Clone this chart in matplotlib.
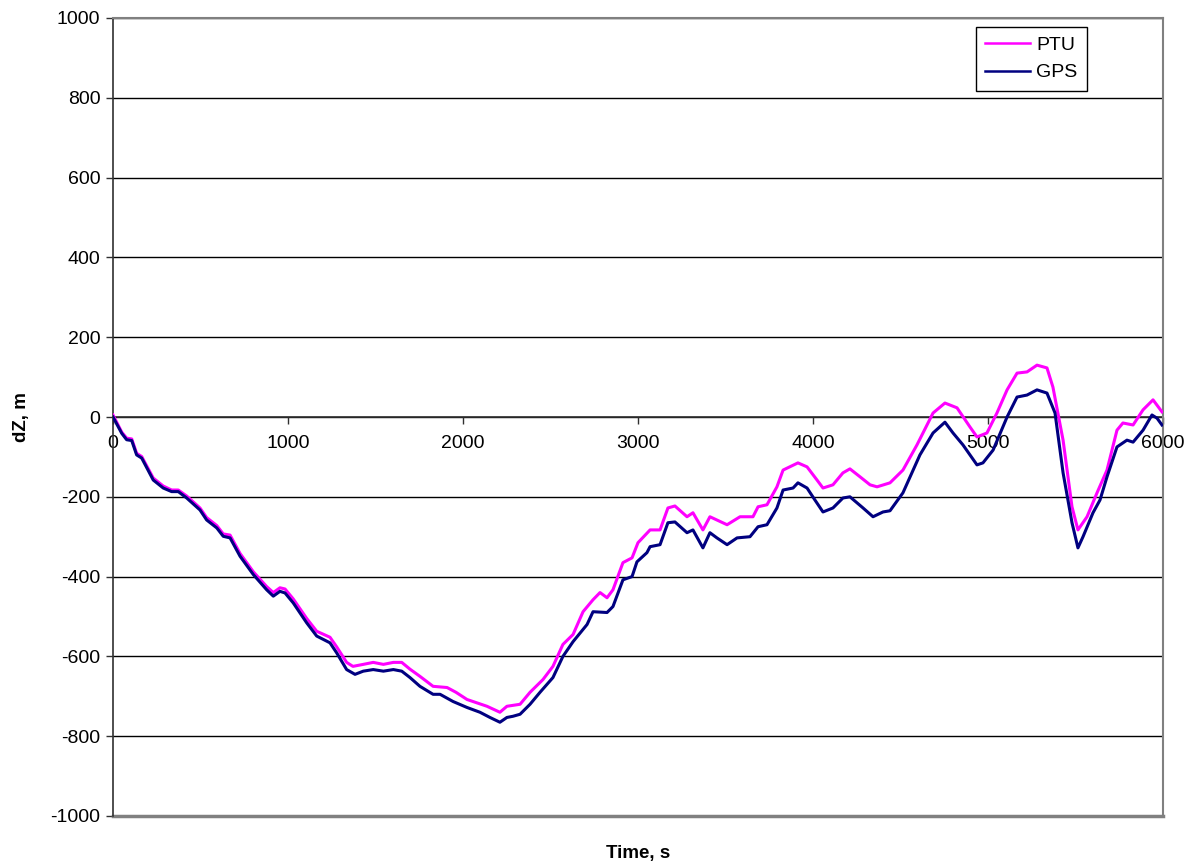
import matplotlib
matplotlib.use('Agg')
import matplotlib.pyplot as plt
import numpy as np

matplotlib.rcParams['font.family'] = ['Liberation Sans', 'DejaVu Sans']
matplotlib.rcParams['axes.unicode_minus'] = False
plt.rcParams.update({'font.size': 14})

# GPS height difference
t_gps = [0, 50, 78, 107, 135, 164, 230, 287, 335, 373, 421, 497, 535, 593, 630, 669,
         726, 802, 878, 916, 954, 983, 1030, 1107, 1164, 1240, 1278, 1335, 1383, 1430,
         1487, 1545, 1602, 1650, 1697, 1754, 1829, 1869, 1943, 2023, 2097, 2154, 2211,
         2251, 2286, 2326, 2383, 2440, 2514, 2571, 2629, 2709, 2743, 2823, 2857, 2914,
         2966, 2994, 3051, 3069, 3126, 3171, 3211, 3280, 3314, 3371, 3411, 3451, 3509,
         3566, 3640, 3686, 3737, 3794, 3829, 3886, 3914, 3966, 4011, 4057, 4114, 4171,
         4211, 4286, 4343, 4400, 4440, 4514, 4611, 4686, 4754, 4800, 4857, 4937, 4971,
         5029, 5109, 5166, 5223, 5280, 5337, 5383, 5429, 5480, 5514, 5543, 5600, 5640,
         5680, 5737, 5794, 5829, 5886, 5937, 5966, 5994]
z_gps = [0, -41, -57, -59, -95, -103, -158, -178, -187, -187, -203, -233, -258, -278, -299, -303,
         -349, -395, -433, -449, -437, -441, -466, -516, -549, -566, -591, -633, -645, -637,
         -633, -637, -633, -637, -653, -675, -695, -695, -713, -728, -740, -753, -765,
         -753, -750, -745, -720, -690, -653, -600, -563, -520, -488, -490, -475, -408,
         -400, -363, -340, -325, -320, -265, -263, -290, -283, -328, -290, -303, -320,
         -303, -300, -275, -270, -228, -183, -178, -165, -178, -208, -238, -228, -203,
         -200, -228, -250, -238, -235, -190, -95, -40, -13, -40, -70, -120, -115,
         -83, 0, 50, 55, 68, 60, 10, -140, -265, -328, -300, -240, -208,
         -150, -75, -58, -63, -33, 5, -3, -20]

# PTU height difference
t_ptu = [0, 50, 78, 107, 135, 164, 230, 287, 335, 373, 421, 497, 535, 593, 630, 669,
         726, 802, 878, 916, 954, 983, 1030, 1107, 1164, 1240, 1278, 1335, 1371, 1430,
         1487, 1545, 1602, 1650, 1697, 1754, 1829, 1909, 1960, 2023, 2137, 2211, 2251,
         2326, 2383, 2457, 2514, 2571, 2629, 2686, 2743, 2783, 2823, 2857, 2914, 2966,
         3000, 3069, 3126, 3171, 3211, 3280, 3314, 3371, 3411, 3509, 3583, 3657, 3686,
         3737, 3794, 3829, 3914, 3966, 4023, 4057, 4114, 4171, 4211, 4269, 4326, 4366,
         4440, 4514, 4594, 4686, 4754, 4823, 4897, 4937, 4994, 5051, 5109, 5166, 5223,
         5280, 5337, 5371, 5429, 5480, 5514, 5566, 5623, 5680, 5737, 5771, 5829, 5886,
         5943, 5994]
z_ptu = [5, -38, -53, -55, -91, -99, -153, -173, -183, -183, -198, -228, -252, -272, -293, -296,
         -342, -388, -425, -440, -428, -431, -456, -505, -537, -552, -576, -615, -625, -620,
         -615, -620, -615, -615, -632, -650, -675, -678, -690, -708, -725, -740, -725,
         -720, -690, -658, -625, -570, -545, -488, -458, -440, -453, -433, -365, -353,
         -315, -283, -283, -228, -223, -250, -240, -283, -250, -270, -250, -250, -225,
         -220, -175, -133, -115, -125, -158, -178, -170, -140, -130, -150, -170, -175,
         -165, -133, -70, 10, 35, 23, -25, -50, -40, 10, 68, 110, 113,
         130, 123, 75, -58, -225, -283, -250, -190, -133, -33, -15, -20, 18,
         43, 13]

fig = plt.figure(figsize=(11.93, 8.66), dpi=100)
ax = fig.add_axes([113/1193, 1-816/866, (1163-113)/1193, (816-18)/866])

for y in np.arange(-800, 1001, 200):
	ax.axhline(y, color='black', linewidth=1.0, zorder=1)

ax.plot(t_ptu, z_ptu, color='#FF00FF', linewidth=2.2, label='PTU', zorder=3)
ax.plot(t_gps, z_gps, color='#000080', linewidth=2.2, label='GPS', zorder=4)

ax.set_xlim(0, 6000)
ax.set_ylim(-1000, 1000)
ax.set_yticks(np.arange(-1000, 1001, 200))
ax.set_xticks(np.arange(0, 6001, 1000))

for s in ['top', 'right']:
	ax.spines[s].set_color('#808080')
	ax.spines[s].set_linewidth(1.5)
ax.spines['left'].set_color('#303030')
ax.spines['left'].set_linewidth(1.2)
ax.spines['bottom'].set_position(('data', 0))
ax.spines['bottom'].set_color('#303030')
ax.spines['bottom'].set_linewidth(1.2)
ax.spines['bottom'].set_zorder(2)
ax.plot([0, 1], [0, 0], transform=ax.transAxes, color='#808080', linewidth=2.5, clip_on=False, zorder=2)

ax.tick_params(axis='both', direction='out', length=5, width=1, colors='#303030', labelcolor='black', labelsize=14)
ax.tick_params(axis='x', pad=8)
ax.tick_params(axis='y', pad=4)

ax.text(-0.087, 0.5, 'dZ, m', transform=ax.transAxes, rotation=90, ha='center', va='center', fontsize=13.5, fontweight='bold')
ax.text(0.5, -0.047, 'Time, s', transform=ax.transAxes, ha='center', va='center', fontsize=13.5, fontweight='bold')

leg = ax.legend(loc='upper right', bbox_to_anchor=(0.9275, 0.989), frameon=True, fancybox=False, framealpha=1,
	edgecolor='black', fontsize=14, handlelength=2.3, handletextpad=0.3, borderpad=0.5, labelspacing=0.5,
	borderaxespad=0)
leg.get_frame().set_linewidth(1.0)
for l in leg.get_lines():
	l.set_linewidth(1.8)

fig.savefig('out.png', dpi=100)
